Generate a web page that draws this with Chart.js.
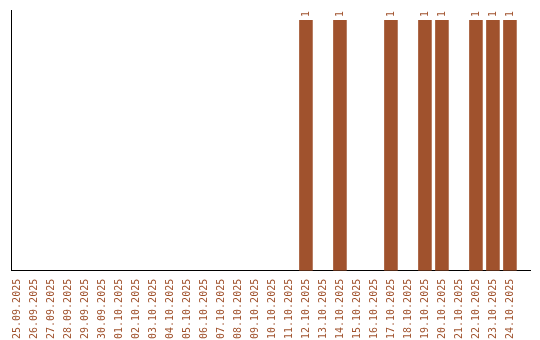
<!DOCTYPE html>
<html>
<head>
<meta charset="utf-8">
<script src="https://cdn.jsdelivr.net/npm/chart.js@4"></script>
<style>
  html, body { margin: 0; padding: 0; background: #fff; }
  #wrap { width: 540px; height: 340px; }
</style>
</head>
<body>
<div id="wrap"><canvas id="chart"></canvas></div>
<script>
const dates = [
  '25.09.2025', '26.09.2025', '27.09.2025', '28.09.2025', '29.09.2025', '30.09.2025',
  '01.10.2025', '02.10.2025', '03.10.2025', '04.10.2025', '05.10.2025', '06.10.2025',
  '07.10.2025', '08.10.2025', '09.10.2025', '10.10.2025', '11.10.2025', '12.10.2025',
  '13.10.2025', '14.10.2025', '15.10.2025', '16.10.2025', '17.10.2025', '18.10.2025',
  '19.10.2025', '20.10.2025', '21.10.2025', '22.10.2025', '23.10.2025', '24.10.2025'
];
const counts = [
  0, 0, 0, 0, 0, 0,
  0, 0, 0, 0, 0, 0,
  0, 0, 0, 0, 0, 1,
  0, 1, 0, 0, 1, 0,
  1, 1, 0, 1, 1, 1
];

const BROWN = '#A0522D';
const MONO = '"DejaVu Sans Mono", monospace';

// Rotated value labels above the bars
const valueLabels = {
  id: 'valueLabels',
  afterDatasetsDraw(chart) {
    const ctx = chart.ctx;
    const meta = chart.getDatasetMeta(0);
    ctx.save();
    ctx.font = '10px ' + MONO;
    ctx.fillStyle = BROWN;
    ctx.textAlign = 'left';
    ctx.textBaseline = 'middle';
    meta.data.forEach((bar, i) => {
      if (!counts[i]) return;
      ctx.save();
      ctx.translate(bar.x, bar.y - 3);
      ctx.rotate(-Math.PI / 2);
      ctx.fillText(String(counts[i]), 0, 0);
      ctx.restore();
    });
    ctx.restore();
  }
};

new Chart(document.getElementById('chart'), {
  type: 'bar',
  data: {
    datasets: [{
      data: counts.map((v, i) => ({ x: i, y: v })),
      backgroundColor: BROWN,
      borderWidth: 0,
      barPercentage: 0.8,
      categoryPercentage: 1
    }]
  },
  options: {
    responsive: true,
    maintainAspectRatio: false,
    animation: false,
    layout: { padding: { left: 3, right: 10, top: 10, bottom: 1 } },
    plugins: {
      legend: { display: false },
      tooltip: { enabled: false }
    },
    scales: {
      x: {
        type: 'linear',
        offset: false,
        min: -0.35,
        max: 30.18,
        grid: { display: false },
        border: { display: true, color: '#000', width: 1 },
        afterBuildTicks: (scale) => {
          scale.ticks = dates.map((d, i) => ({ value: i }));
        },
        ticks: {
          color: BROWN,
          font: { family: MONO, size: 10 },
          minRotation: 90,
          maxRotation: 90,
          autoSkip: false,
          padding: 0,
          callback: (v) => dates[v] || ''
        }
      },
      y: {
        min: 0,
        max: 1.04,
        grid: { display: false },
        border: { display: true, color: '#000', width: 1 },
        ticks: { display: false }
      }
    }
  },
  plugins: [valueLabels]
});
</script>
</body>
</html>
